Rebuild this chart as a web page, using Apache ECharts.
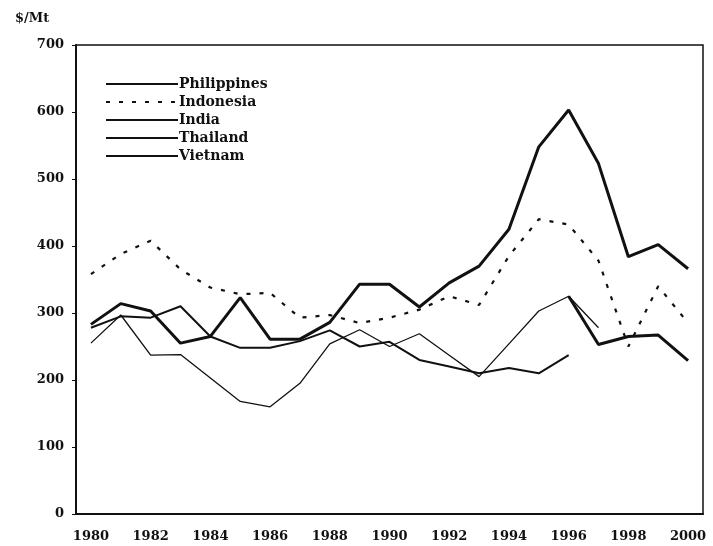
<!DOCTYPE html>
<html>
<head>
<meta charset="utf-8">
<script src="https://cdn.jsdelivr.net/npm/echarts@6/dist/echarts.min.js"></script>
<style>
  html, body { margin: 0; padding: 0; background: #fff; }
  #ChartDom { width: 713px; height: 546px; }
</style>
</head>
<body>
<div id="ChartDom"></div>
<script>
const years = ["1980","1981","1982","1983","1984","1985","1986","1987","1988","1989","1990",
  "1991","1992","1993","1994","1995","1996","1997","1998","1999","2000"]
const philippines = [283, 314, 303, 255, 265, 323, 261, 261, 286, 343, 343, 309, 345, 370, 425, 548, 603, 523, 384, 402, 366]
const indonesia = [358, 388, 408, 365, 338, 328, 330, 293, 297, 285, 293, 305, 325, 312, 385, 440, 432, 378, 250, 340, 285]
const india = [278, 295, 293, 310, 265, 248, 248, 258, 274, 250, 257, 230, 220, 210, 218, 210, 237, null, null, null, null]
const thailand = [255, 297, 237, 238, 203, 168, 160, 195, 254, 275, 250, 269, 237, 205, 254, 303, 325, 278, null, null, null]
const vietnam = [null, null, null, null, null, null, null, null, null, null, null, null, null, null, null, null, 325, 253, 265, 267, 229]

const serif = "DejaVu Serif"
const ink = "#111"

const chartDom = document.getElementById("ChartDom")
const myChart = echarts.init(chartDom)

function line(name, data, width, type) {
  return {
    name: name,
    type: "line",
    data: data,
    symbol: "none",
    connectNulls: false,
    lineStyle: { color: ink, width: width, type: type || "solid" },
    itemStyle: { color: ink },
  }
}

myChart.setOption({
  animation: false,
  title: {
    text: "$/Mt",
    left: 10, top: 7,
    textStyle: { color: ink, fontFamily: serif, fontSize: 13, fontWeight: "bold" },
  },
  legend: {
    orient: "vertical",
    left: 100, top: 72,
    itemWidth: 72, itemHeight: 14, itemGap: 4,
    itemStyle: { opacity: 0 },
    textStyle: { color: ink, fontFamily: serif, fontSize: 14, fontWeight: "bold", padding: [0, 0, 0, -4] },
    data: ["Philippines", "Indonesia", "India", "Thailand", "Vietnam"],
  },
  grid: {
    left: 76, right: 10, top: 45, bottom: 32,
    show: true, borderColor: ink, borderWidth: 1.5,
  },
  xAxis: {
    type: "category",
    data: years,
    boundaryGap: true,
    axisLine: { show: true, lineStyle: { color: ink, width: 2 } },
    axisTick: { show: false },
    splitLine: { show: false },
    axisLabel: { color: ink, fontFamily: serif, fontSize: 13, fontWeight: "bold", margin: 16, interval: 1 },
  },
  yAxis: {
    type: "value",
    min: 0, max: 700, interval: 100,
    axisLine: { show: true, lineStyle: { color: ink, width: 2 } },
    axisTick: { show: true, length: 4, lineStyle: { color: ink } },
    splitLine: { show: false },
    axisLabel: { color: ink, fontFamily: serif, fontSize: 13, fontWeight: "bold", margin: 12 },
  },
  series: [
    line("Philippines", philippines, 3),
    line("Indonesia", indonesia, 2.2, [4, 9]),
    line("India", india, 2),
    line("Thailand", thailand, 1.3),
    line("Vietnam", vietnam, 3),
  ],
})
window.addEventListener("resize", () => myChart.resize(), { passive: true })
</script>
</body>
</html>
